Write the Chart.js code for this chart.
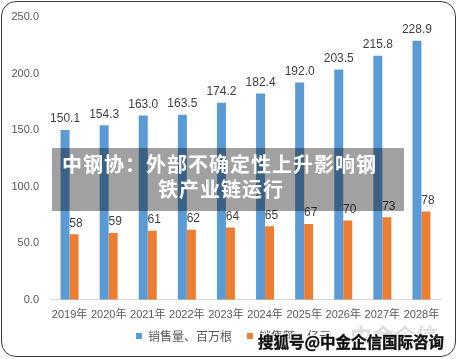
<!DOCTYPE html>
<html>
<head>
<meta charset="utf-8">
<script src="https://cdn.jsdelivr.net/npm/chart.js@4.4.0/dist/chart.umd.min.js"></script>
<style>
  html, body { margin: 0; padding: 0; background: #fff; }
  #wrap { position: relative; width: 458px; height: 359px; }
  #frame {
    position: absolute; left: 1px; top: 1px; width: 453px; height: 354px;
    border: 1.5px solid #3a3a3a; border-radius: 15px; pointer-events: none;
  }
  #banner {
    position: absolute; left: 52px; top: 148px; width: 352px; height: 63px;
    background: rgba(0, 0, 0, 0.37);
    color: #fff; font-family: "Noto Sans CJK SC", sans-serif; font-weight: bold;
    font-size: 20px; line-height: 25px;
  }
  #banner .l1 { position: absolute; left: 10px; top: 3px; letter-spacing: 1px; white-space: nowrap; }
  #banner .l2 { position: absolute; left: 106px; top: 28px; letter-spacing: 1px; white-space: nowrap; }
  #logo {
    position: absolute; left: 350px; top: 318px; font-family: "Noto Sans CJK SC", sans-serif;
    font-size: 22px; font-weight: bold; color: rgba(160, 160, 160, 0.35);
  }
  #mark {
    position: absolute; left: 258px; top: 330px; font-family: "Noto Sans CJK SC", sans-serif;
    font-size: 15.5px; font-weight: bold; color: #111;
    -webkit-text-stroke: 0.4px #111;
    text-shadow: 1px 1px 0 #fff, -1px -1px 0 #fff, 1px -1px 0 #fff, -1px 1px 0 #fff;
    white-space: nowrap;
  }
</style>
</head>
<body>
<div id="wrap">
  <canvas id="chart" width="458" height="359"></canvas>
  <div id="frame"></div>
  <div id="banner"><span class="l1">中钢协：外部不确定性上升影响钢</span><span class="l2">铁产业链运行</span></div>
  <div id="logo">中金企信</div>
  <div id="mark">搜狐号@中金企信国际咨询</div>
</div>
<script>
// 数据
const years = ["2019年", "2020年", "2021年", "2022年", "2023年", "2024年", "2025年", "2026年", "2027年", "2028年"];
const salesVolume = [150.1, 154.3, 163.0, 163.5, 174.2, 182.4, 192.0, 203.5, 215.8, 228.9];
const salesValue = [58, 59, 61, 62, 64, 65, 67, 70, 73, 78];
const seriesNames = ["销售量、百万根", "销售额、亿元"];
const yTicks = [0, 50, 100, 150, 200, 250];

// 柱顶数值标签
const barLabels = {
  id: "barLabels",
  afterDatasetsDraw(chart) {
    const ctx = chart.ctx;
    ctx.save();
    ctx.font = "12px 'Liberation Sans', sans-serif";
    ctx.fillStyle = "#404040";
    ctx.textAlign = "center";
    ctx.textBaseline = "bottom";
    chart.data.datasets.forEach((ds, i) => {
      const meta = chart.getDatasetMeta(i);
      meta.data.forEach((bar, j) => {
        const v = ds.data[j];
        const txt = i === 0 ? v.toFixed(1) : String(v);
        const dx = i === 0 ? 0 : 2;
        ctx.fillText(txt, bar.x + dx, bar.y - 5);
      });
    });
    ctx.restore();
  }
};

// 微调图例高度和位置
const legendShift = {
  id: "legendShift",
  beforeLayout(chart) {
    const lg = chart.legend;
    if (lg && !lg._patched) {
      const fit = lg.fit.bind(lg);
      lg.fit = function () { fit(); this.height -= 4; };
      lg._patched = true;
    }
  },
  afterLayout(chart) {
    const lg = chart.legend;
    lg.left += 8; lg.right += 8;
    lg.top -= 8; lg.bottom -= 8;
  }
};

new Chart(document.getElementById("chart"), {
  type: "bar",
  data: {
    labels: years,
    datasets: [
      {
        label: seriesNames[0],
        data: salesVolume,
        backgroundColor: "#5B9BD5",
        barPercentage: 1,
        categoryPercentage: 0.46,
      },
      {
        label: seriesNames[1],
        data: salesValue,
        backgroundColor: "#ED7D31",
        barPercentage: 1,
        categoryPercentage: 0.46,
      },
    ],
  },
  options: {
    responsive: false,
    animation: false,
    layout: { padding: { left: 10, right: 17, top: 17, bottom: 3 } },
    plugins: {
      tooltip: { enabled: false },
      legend: {
        position: "bottom",
        labels: {
          boxWidth: 6,
          boxHeight: 6,
          color: "#595959",
          font: { size: 12, family: "'Noto Sans CJK SC', sans-serif" },
          padding: 15,
        },
      },
    },
    scales: {
      x: {
        grid: { display: false },
        border: { color: "#D9D9D9" },
        ticks: { padding: 1, color: "#595959", font: { size: 11, family: "'Liberation Sans', 'Noto Sans CJK SC', sans-serif" }, maxRotation: 0, autoSkip: false },
      },
      y: {
        min: 0,
        max: 250,
        afterBuildTicks(scale) {
          scale.ticks = yTicks.map(v => ({ value: v }));
        },
        afterFit(scale) { scale.width = 40; },
        grid: { display: false },
        border: { display: false },
        ticks: {
          color: "#595959",
          font: { size: 11, family: "'Liberation Sans', sans-serif" },
          callback: v => v.toFixed(1),
        },
      },
    },
  },
  plugins: [barLabels, legendShift],
});
</script>
</body>
</html>
